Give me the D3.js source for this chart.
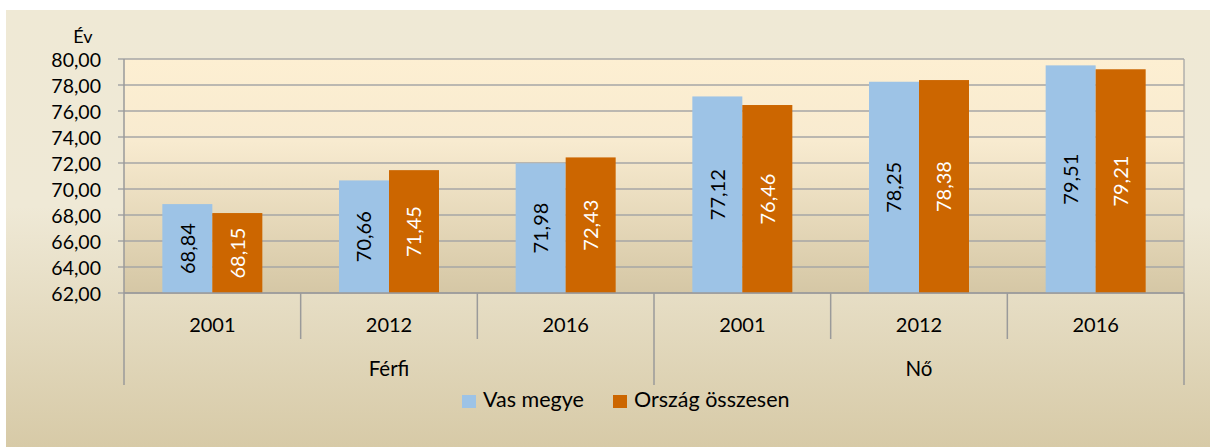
<!DOCTYPE html>
<html><head><meta charset="utf-8">
<script src="https://cdn.jsdelivr.net/npm/d3@7"></script>
<style>body{margin:0;background:#fff}svg{display:block}text{font-family:Lato,"Noto Sans",sans-serif}</style>
</head><body><svg id="c" width="1210" height="447"></svg>
<script>
const groups = ["Férfi", "Nő"];
const years = ["2001", "2012", "2016"];
const seriesNames = ["Vas megye", "Ország összesen"];
const vasMegye = [68.84, 70.66, 71.98, 77.12, 78.25, 79.51];
const orszag = [68.15, 71.45, 72.43, 76.46, 78.38, 79.21];
const yTicks = [62, 64, 66, 68, 70, 72, 74, 76, 78, 80];
const colors = ["#9DC3E6", "#CC6600"];
const labelColors = ["#000", "#fff"];

const svg = d3.select("#c");
const defs = svg.append("defs");
const g1 = defs.append("linearGradient").attr("id","bgGrad").attr("x1",0).attr("y1",0).attr("x2",0).attr("y2",1);
g1.append("stop").attr("offset","0%").attr("stop-color","#EFE9D5");
g1.append("stop").attr("offset","45%").attr("stop-color","#EFE9D6");
g1.append("stop").attr("offset","100%").attr("stop-color","#D7CAA7");
const g2 = defs.append("linearGradient").attr("id","plotGrad").attr("x1",0).attr("y1",0).attr("x2",0).attr("y2",1);
g2.append("stop").attr("offset","0%").attr("stop-color","#FDEFD2");
g2.append("stop").attr("offset","35%").attr("stop-color","#F8EBD0");
g2.append("stop").attr("offset","100%").attr("stop-color","#D5C7A5");

svg.append("rect").attr("x",6).attr("y",10).attr("width",1204).attr("height",437).attr("fill","url(#bgGrad)");

const L = 124, R = 1184, T = 59, B = 293;
const cats = [];
groups.forEach(g => years.forEach(y => cats.push(g + "|" + y)));
const x = d3.scaleBand().domain(cats).range([L, R]).paddingInner(0).paddingOuter(0);
const y = d3.scaleLinear().domain([62, 80]).range([B, T]);
const xs = d3.scaleBand().domain([0,1]).range([0, 100]);
const inner = (x.bandwidth() - 100) / 2;

svg.append("rect").attr("x",L).attr("y",T).attr("width",R-L).attr("height",B-T).attr("fill","url(#plotGrad)");

svg.append("g").selectAll("line").data(yTicks).join("line")
  .attr("x1", 118).attr("x2", R).attr("y1", d => y(d)).attr("y2", d => y(d))
  .attr("stroke", "#A6A6A6").attr("stroke-width", 1.3);
svg.append("line").attr("x1",R).attr("x2",R).attr("y1",T).attr("y2",B).attr("stroke","#A6A6A6").attr("stroke-width",1.3);

const yAxis = d3.axisLeft(y).tickValues(yTicks).tickSize(0).tickPadding(0)
  .tickFormat(d => d3.format(".2f")(d).replace(".", ","));
const ya = svg.append("g").attr("transform", `translate(${L},0)`).call(yAxis);
ya.select(".domain").remove();
ya.selectAll("text").attr("x", -23).attr("font-size", 19.5).attr("fill", "#000").attr("font-family","Lato, sans-serif").attr("dy","0.36em");
svg.append("line").attr("x1",L).attr("x2",L).attr("y1",T).attr("y2",B).attr("stroke","#9A9A9A").attr("stroke-width",1.5);

svg.append("text").attr("x", 83).attr("y", 43).attr("text-anchor","middle").attr("font-size",18).text("Év");

const data = cats.map((c, i) => ({c, vals: [vasMegye[i], orszag[i]]}));
const barG = svg.append("g");
data.forEach(d => {
  d.vals.forEach((v, s) => {
    const bx = x(d.c) + inner + xs(s);
    barG.append("rect").attr("x", bx).attr("y", y(v)).attr("width", xs.bandwidth()).attr("height", y(62) - y(v))
      .attr("fill", colors[s]);
    const cx = bx + xs.bandwidth()/2, cy = (y(v) + y(62)) / 2;
    barG.append("text").attr("transform", `translate(${cx},${cy}) rotate(-90)`)
      .attr("text-anchor","middle").attr("dy","0.36em").attr("font-size",20).attr("fill",labelColors[s])
      .text(d3.format(".2f")(v).replace(".", ","));
  });
});

svg.append("line").attr("x1",L).attr("x2",R).attr("y1",B).attr("y2",B).attr("stroke","#9A9A9A").attr("stroke-width",1.5);
cats.forEach((c, i) => {
  const xx = x(c);
  const isGroup = i % 3 === 0;
  svg.append("line").attr("x1",xx).attr("x2",xx).attr("y1",B).attr("y2", isGroup ? 385 : 339)
    .attr("stroke","#9A9A9A").attr("stroke-width",1.5);
});
svg.append("line").attr("x1",R).attr("x2",R).attr("y1",B).attr("y2",385).attr("stroke","#9A9A9A").attr("stroke-width",1.5);
svg.append("g").selectAll("text").data(cats).join("text")
  .attr("x", d => x(d) + x.bandwidth()/2).attr("y", 332).attr("text-anchor","middle").attr("font-size",20)
  .text(d => d.split("|")[1]);
groups.forEach((g, gi) => {
  const x0 = x(g + "|" + years[0]), x1 = x(g + "|" + years[2]) + x.bandwidth();
  svg.append("text").attr("x", (x0 + x1)/2).attr("y", 376).attr("text-anchor","middle").attr("font-size",20.5).text(g);
});

const legX = [462, 613];
seriesNames.forEach((n, i) => {
  svg.append("rect").attr("x", legX[i]).attr("y", 395).attr("width", 14).attr("height", 13).attr("fill", colors[i]);
  svg.append("text").attr("x", legX[i] + 21).attr("y", 407).attr("font-size",21.5).text(n);
});
</script></body></html>
